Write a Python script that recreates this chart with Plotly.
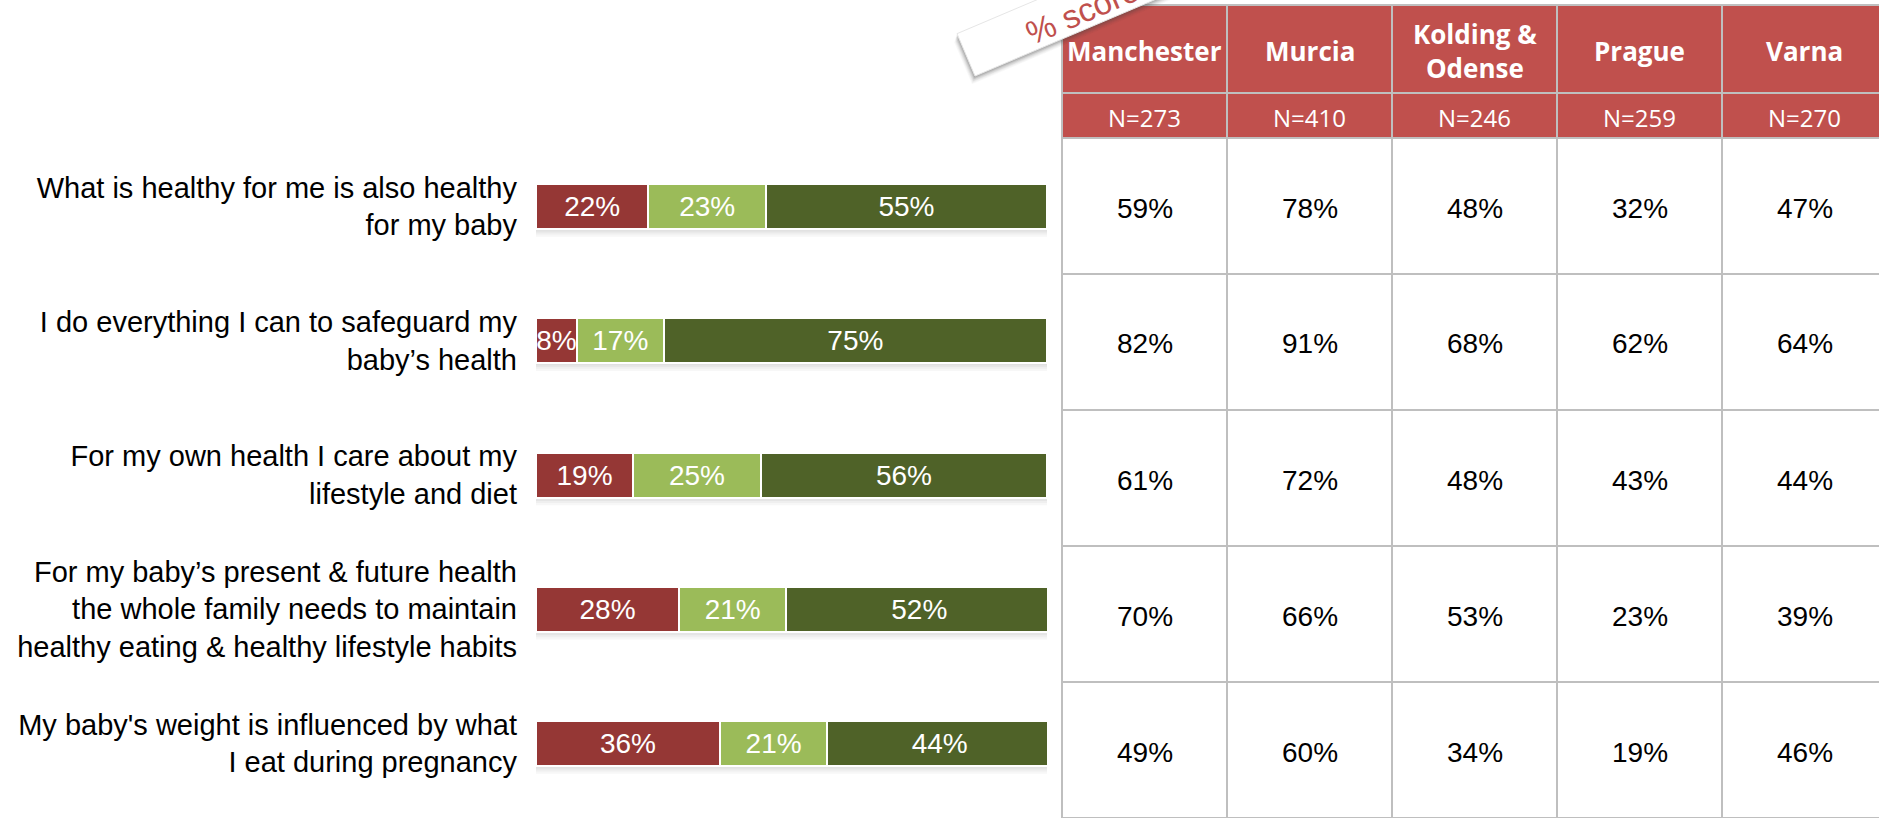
import math
import plotly.graph_objects as go

# ---- Statement ratings (stacked bars) ----
questions = [
    "What is healthy for me is also healthy<br>for my baby",
    "I do everything I can to safeguard my<br>baby\u2019s health",
    "For my own health I care about my<br>lifestyle and diet",
    "For my baby\u2019s present & future health<br>the whole family needs to maintain<br>healthy eating & healthy lifestyle habits",
    "My baby's weight is influenced by what<br>I eat during pregnancy",
]
disagree = [22, 8, 19, 28, 36]
neutral = [23, 17, 25, 21, 21]
agree = [55, 75, 56, 52, 44]

# ---- City breakdown table ----
cities = ["Manchester", "Murcia", "Kolding &<br>Odense", "Prague", "Varna"]
sample_sizes = [273, 410, 246, 259, 270]
score_manchester = [59, 82, 61, 70, 49]
score_murcia = [78, 91, 72, 66, 60]
score_kolding_odense = [48, 68, 48, 53, 34]
score_prague = [32, 62, 43, 23, 19]
score_varna = [47, 64, 44, 39, 46]
city_scores = [score_manchester, score_murcia, score_kolding_odense,
               score_prague, score_varna]

badge_text = "% score"

# ---- Page geometry (pixels) ----
W, H = 1879, 818
BAR_LEFT, BAR_RIGHT = 536, 1047
BAR_FIRST_CENTER, BAR_STEP, BAR_HEIGHT = 206.5, 134.25, 43

TABLE_LEFT, COL_W = 1062, 165
HEAD_TOP, HEAD_MID, HEAD_BOTTOM = 5, 93, 138
ROW_H = (H - HEAD_BOTTOM) / 5

RED_HEAD = "#C0504D"
GRID = "#BFBFBF"
COL_DISAGREE = "#953735"
COL_NEUTRAL = "#9BBB59"
COL_AGREE = "#4F6228"


def fx(x):
    return x / W


def fy(y):
    return 1 - y / H


fig = go.Figure()

for name, vals, color in [("Disagree", disagree, COL_DISAGREE),
                          ("Neither", neutral, COL_NEUTRAL),
                          ("Agree", agree, COL_AGREE)]:
    fig.add_trace(go.Bar(
        y=questions, x=vals, orientation="h", name=name,
        width=(BAR_HEIGHT + 2) / BAR_STEP,
        marker=dict(color=color, line=dict(color="white", width=2)),
        texttemplate="%{x}%", textposition="inside", textangle=0,
        insidetextanchor="middle", constraintext="none",
        textfont=dict(color="white", size=28, family="Liberation Sans"),
        hoverinfo="skip", showlegend=False,
    ))

shapes = []

# soft shadow under each bar
half = BAR_HEIGHT / 2 / BAR_STEP
for i in range(len(questions)):
    base = i + half
    for k, op in enumerate([0.30, 0.20, 0.12, 0.06]):
        shapes.append(dict(
            type="rect", xref="x", yref="y", layer="below",
            x0=0, x1=100,
            y0=base + k * 2.2 / BAR_STEP, y1=base + (k + 1) * 2.2 / BAR_STEP,
            fillcolor="#7F7F7F", opacity=op, line=dict(width=0),
        ))

# header cells
ncols = len(cities)
for j in range(ncols):
    x0 = TABLE_LEFT + j * COL_W
    for y0, y1 in [(HEAD_TOP, HEAD_MID), (HEAD_MID, HEAD_BOTTOM)]:
        shapes.append(dict(
            type="rect", xref="paper", yref="paper",
            x0=fx(x0), x1=fx(x0 + COL_W), y0=fy(y1), y1=fy(y0),
            fillcolor=RED_HEAD, line=dict(width=0),
        ))

# grid lines
table_right = TABLE_LEFT + ncols * COL_W
for j in range(ncols + 1):
    x = TABLE_LEFT + j * COL_W
    shapes.append(dict(type="line", xref="paper", yref="paper",
                       x0=fx(x), x1=fx(x), y0=fy(HEAD_TOP - 1), y1=fy(H + 2),
                       line=dict(color=GRID, width=2)))
row_lines = [HEAD_TOP, HEAD_MID, HEAD_BOTTOM] + [HEAD_BOTTOM + ROW_H * (k + 1) for k in range(5)]
for y in row_lines:
    shapes.append(dict(type="line", xref="paper", yref="paper",
                       x0=fx(TABLE_LEFT - 1), x1=fx(table_right), y0=fy(y), y1=fy(y),
                       line=dict(color=GRID, width=2)))

# tilted badge card with drop shadow
ang = math.radians(23)
d = (math.cos(ang), -math.sin(ang))
nrm = (-math.sin(ang), -math.cos(ang))
bl = (975, 76)
card_len, card_h = 380, 46


def card_path(ox, oy):
    p0 = (bl[0] + ox, bl[1] + oy)
    p1 = (p0[0] + card_len * d[0], p0[1] + card_len * d[1])
    p2 = (p1[0] + card_h * nrm[0], p1[1] + card_h * nrm[1])
    p3 = (p0[0] + card_h * nrm[0], p0[1] + card_h * nrm[1])
    pts = [p0, p1, p2, p3]
    return "M " + " L ".join(f"{fx(x):.5f},{fy(y):.5f}" for x, y in pts) + " Z"


for k, op in enumerate([0.12, 0.10, 0.09, 0.07, 0.05, 0.04, 0.03]):
    off = k + 1.5
    shapes.append(dict(type="path", xref="paper", yref="paper",
                       path=card_path(-off * 0.4, off * 1.1),
                       fillcolor="#404040", opacity=op, line=dict(width=0)))
shapes.append(dict(type="path", xref="paper", yref="paper",
                   path=card_path(0, 0), fillcolor="white",
                   line=dict(color="#E6E6E6", width=1)))

annotations = []
for j, city in enumerate(cities):
    cx = TABLE_LEFT + (j + 0.5) * COL_W
    annotations.append(dict(
        x=fx(cx), y=fy((HEAD_TOP + HEAD_MID) / 2 + 2), xref="paper", yref="paper",
        text=f"<b>{city}</b>", showarrow=False, xanchor="center", yanchor="middle",
        font=dict(family="Open Sans", size=26, color="white"),
    ))
    annotations.append(dict(
        x=fx(cx), y=fy((HEAD_MID + HEAD_BOTTOM) / 2 + 2), xref="paper", yref="paper",
        text=f"N={sample_sizes[j]}", showarrow=False, xanchor="center", yanchor="middle",
        font=dict(family="Open Sans", size=24, color="white"),
    ))
    for i, v in enumerate(city_scores[j]):
        cy = HEAD_BOTTOM + (i + 0.5) * ROW_H
        annotations.append(dict(
            x=fx(cx), y=fy(cy + 2), xref="paper", yref="paper",
            text=f"{v}%", showarrow=False, xanchor="center", yanchor="middle",
            font=dict(family="Liberation Sans", size=28, color="black"),
        ))

annotations.append(dict(
    x=fx(1082), y=fy(12), xref="paper", yref="paper",
    text=badge_text, textangle=-23, showarrow=False,
    xanchor="center", yanchor="middle",
    font=dict(family="Liberation Sans", size=33, color=RED_HEAD),
))

fig.update_layout(
    width=W, height=H, margin=dict(l=0, r=0, t=0, b=0), autosize=False,
    barmode="stack", paper_bgcolor="white", plot_bgcolor="rgba(0,0,0,0)",
    uniformtext=dict(minsize=28, mode="show"),
    xaxis=dict(domain=[fx(BAR_LEFT), fx(BAR_RIGHT)], range=[0, 100],
               visible=False, fixedrange=True),
    yaxis=dict(domain=[0, 1],
               range=[(H - BAR_FIRST_CENTER) / BAR_STEP, -BAR_FIRST_CENTER / BAR_STEP],
               categoryorder="array", categoryarray=questions,
               showgrid=False, zeroline=False, showline=False, ticks="",
               ticklabelstandoff=18,
               tickfont=dict(family="Liberation Sans", size=29, color="black"),
               fixedrange=True),
    shapes=shapes, annotations=annotations,
)

fig.write_html("out.html")
